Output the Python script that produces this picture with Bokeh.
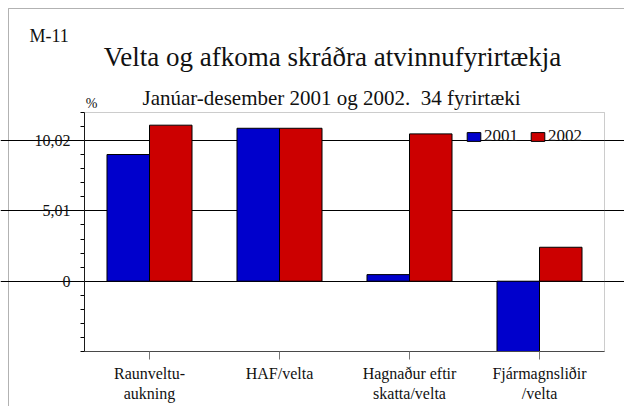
from bokeh.plotting import figure
from bokeh.models import (Range1d, FixedTicker, Label, Legend, LegendItem,
                          ColumnDataSource, BoxAnnotation)
from bokeh.transform import dodge
from bokeh.embed import file_html
from bokeh.resources import INLINE

# ---- data -------------------------------------------------------------
categories = ["Raunveltu-\naukning", "HAF/velta",
              "Hagnaður eftir\nskatta/velta", "Fjármagnsliðir\n/velta"]
series_names = ["2001", "2002"]
values_2001 = [9.03, 10.9, 0.47, -5.01]
values_2002 = [11.12, 10.9, 10.5, 2.42]
y_major_ticks = [0, 5.01, 10.02]
y_tick_labels = {0: "0", 5.01: "5,01", 10.02: "10,02"}
y_minor_step = 1.002
y_min, y_max = -5.01, 12.024

title_text = "Velta og afkoma skráðra atvinnufyrirtækja"
subtitle_text = "Janúar-desember 2001 og 2002.\u00a0 34 fyrirtæki"
chart_id = "M-11"
unit_text = "%"

# ---- styling / layout -------------------------------------------------
FONT = "Liberation Serif"
BLUE = "#0000CC"
RED = "#CC0000"
W, H = 624, 406
PLOT_L, PLOT_R, PLOT_T, PLOT_B = 84, 604, 112, 351   # page px of the data box

n = len(categories)
xs = [i + 0.5 for i in range(n)]
px_per_x = (PLOT_R - PLOT_L) / n
px_per_y = (PLOT_B - PLOT_T) / (y_max - y_min)
x_start = -PLOT_L / px_per_x
x_end = (W - PLOT_L) / px_per_x
y_start = y_min - (H - PLOT_B) / px_per_y
y_end = y_max + PLOT_T / px_per_y

src = ColumnDataSource(dict(x=xs, v2001=values_2001, v2002=values_2002))

p = figure(width=W, height=H, x_range=Range1d(x_start, x_end),
           y_range=Range1d(y_start, y_end), output_backend="svg",
           toolbar_location=None, min_border=0)
p.outline_line_color = None
p.background_fill_color = "white"
p.border_fill_color = "white"

bw = 0.327
r1 = p.vbar(x=dodge("x", -bw / 2), top="v2001", bottom=0, width=bw, source=src,
            fill_color=BLUE, line_color="black", line_width=1)
r2 = p.vbar(x=dodge("x", bw / 2), top="v2002", bottom=0, width=bw, source=src,
            fill_color=RED, line_color="black", line_width=1)

# axes at fixed data locations
minor = [round(y_min + k * y_minor_step, 3) for k in range(18)]
ya = p.yaxis[0]
ya.ticker = FixedTicker(ticks=y_major_ticks, minor_ticks=minor)
ya.major_label_overrides = y_tick_labels
ya.fixed_location = 0
ya.bounds = (y_min, y_max)
ya.axis_line_color = "black"
ya.major_tick_line_color = "black"
ya.minor_tick_line_color = "black"
ya.major_tick_out = 8
ya.major_tick_in = 0
ya.minor_tick_out = 4
ya.minor_tick_in = 0
ya.major_label_standoff = 6
ya.major_label_text_font = FONT
ya.major_label_text_font_size = "16px"
ya.major_label_text_color = "#111111"

xa = p.xaxis[0]
xa.ticker = FixedTicker(ticks=xs, minor_ticks=[])
xa.major_label_overrides = {x: c for x, c in zip(xs, categories)}
xa.fixed_location = y_min
xa.bounds = (0, n)
xa.axis_line_color = "#444444"
xa.major_tick_line_color = "#777777"
xa.major_tick_out = 8
xa.major_tick_in = 0
xa.minor_tick_line_color = None
xa.major_label_standoff = 5
xa.major_label_text_font = FONT
xa.major_label_text_font_size = "16px"
xa.major_label_text_color = "#111111"

p.ygrid.ticker = FixedTicker(ticks=y_major_ticks, minor_ticks=[])
p.ygrid.bounds = (0, n)
p.ygrid.grid_line_color = "black"
p.ygrid.grid_line_width = 1
p.xgrid.visible = False

# box around the data area
p.add_layout(BoxAnnotation(left=0, right=n, bottom=y_min, top=y_max,
                           fill_alpha=0, line_color="#555555", line_width=1))
# outer frame of the figure (only top and left edges fall inside the picture)
p.add_layout(BoxAnnotation(left=x_start + 8 / px_per_x, right=x_end + 5,
                           top=y_end - 8 / px_per_y, bottom=y_start - 5,
                           fill_alpha=0, line_color="black", line_width=1))

legend = Legend(items=[LegendItem(label=series_names[0], renderers=[r1]),
                       LegendItem(label=series_names[1], renderers=[r2])],
                orientation="horizontal", location=(465, H - 146),
                glyph_width=17, glyph_height=11, label_standoff=2, spacing=11,
                padding=0, margin=0, border_line_color=None,
                background_fill_alpha=0, label_text_font=FONT,
                label_text_font_size="17px", label_height=11,
                label_text_color="#111111")
p.add_layout(legend)

def lab(text, px, py, size, align="center"):
    return Label(x=px, y=H - py, x_units="screen", y_units="screen",
                 text=text, text_font=FONT, text_font_size=size,
                 text_align=align, text_baseline="alphabetic",
                 text_color="#111111")

p.add_layout(lab(chart_id, 29, 35, "18px", "left"))
p.add_layout(lab(title_text, 332, 56, "27px"))
p.add_layout(lab(subtitle_text, 331, 97, "21px"))
p.add_layout(lab(unit_text, 91, 103, "14px"))

open("out.html", "w").write(file_html(p, INLINE))
